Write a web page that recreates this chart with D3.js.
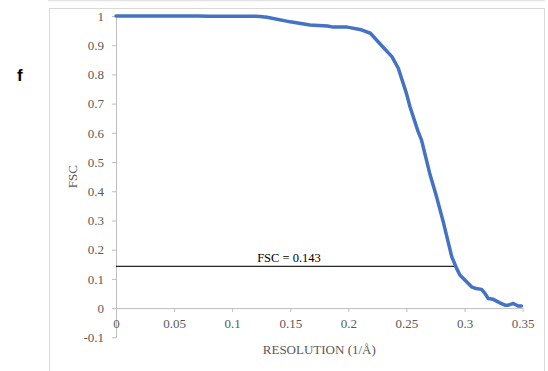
<!DOCTYPE html>
<html>
<head>
<meta charset="utf-8">
<script src="https://cdn.jsdelivr.net/npm/d3@7"></script>
<style>
  body { margin: 0; background: #fff; }
  svg { display: block; }
</style>
</head>
<body>
<div id="chart"></div>
<script>
// FSC curve
const resolution = [0, 0.02, 0.04, 0.06, 0.07, 0.08, 0.10, 0.12, 0.124, 0.13, 0.15, 0.167, 0.182, 0.187, 0.199,
  0.21, 0.219, 0.227, 0.2375, 0.243, 0.25, 0.253, 0.26, 0.263, 0.27, 0.276, 0.2817, 0.286, 0.289, 0.2932,
  0.296, 0.3018, 0.306, 0.31, 0.3147, 0.3176, 0.3204, 0.3247, 0.3305, 0.3348, 0.3376, 0.342, 0.3462, 0.349];
const fsc = [1, 1, 1, 1, 1, 0.999, 0.999, 0.999, 0.998, 0.996, 0.98, 0.969, 0.966, 0.962, 0.962,
  0.954, 0.941, 0.906, 0.861, 0.821, 0.735, 0.69, 0.605, 0.575, 0.462, 0.38, 0.295, 0.225, 0.176, 0.136,
  0.113, 0.09, 0.073, 0.067, 0.064, 0.05, 0.033, 0.03, 0.018, 0.01, 0.01, 0.016, 0.007, 0.007];

const xTicks = [0, 0.05, 0.1, 0.15, 0.2, 0.25, 0.3, 0.35];
const xTickLabels = ["0", "0.05", "0.1", "0.15", "0.2", "0.25", "0.3", "0.35"];
const yTicks = [1, 0.9, 0.8, 0.7, 0.6, 0.5, 0.4, 0.3, 0.2, 0.1, 0, -0.1];
const yTickLabels = ["1", "0.9", "0.8", "0.7", "0.6", "0.5", "0.4", "0.3", "0.2", "0.1", "0", "-0.1"];

const threshold = 0.143;
const thresholdEnd = 0.2928;

const width = 548, height = 371;
const serif = "'Liberation Serif', 'Times New Roman', serif";

const svg = d3.select("#chart").append("svg")
  .attr("width", width)
  .attr("height", height);

// chart frame
svg.append("line")
  .attr("x1", 48).attr("x2", 545).attr("y1", 0.5).attr("y2", 0.5)
  .attr("stroke", "#e3e3e3").attr("stroke-width", 1.5);
svg.append("rect")
  .attr("x", 49.5).attr("y", 8.5).attr("width", 495).attr("height", 380)
  .attr("fill", "none").attr("stroke", "#d9d9d9");

const x = d3.scaleLinear().domain([0, 0.35]).range([116, 522.6]);
const y = d3.scaleLinear().domain([-0.1, 1]).range([337.3, 16]);

// Y axis
const yAxis = svg.append("g")
  .attr("transform", "translate(" + x(0) + ",0)")
  .call(d3.axisLeft(y).tickValues(yTicks).tickSize(4).tickSizeOuter(0)
    .tickFormat((d, i) => yTickLabels[i]));
yAxis.selectAll("path, line").attr("stroke", "#bfbfbf");
yAxis.selectAll("text")
  .attr("x", -12)
  .style("font", "13px " + serif)
  .attr("fill", "#595959");

// X axis at y = 0
const xAxis = svg.append("g")
  .attr("transform", "translate(0," + y(0) + ")")
  .call(d3.axisBottom(x).tickValues(xTicks).tickSize(4).tickSizeOuter(0)
    .tickFormat((d, i) => xTickLabels[i]));
xAxis.selectAll("path, line").attr("stroke", "#bfbfbf");
xAxis.selectAll("text")
  .attr("y", 11)
  .style("font", "13px " + serif)
  .attr("fill", "#595959");

// FSC = 0.143 line
svg.append("line")
  .attr("x1", x(0)).attr("x2", x(thresholdEnd))
  .attr("y1", y(threshold)).attr("y2", y(threshold))
  .attr("stroke", "#262626").attr("stroke-width", 1.3);
svg.append("text")
  .attr("x", 289).attr("y", y(threshold) - 4)
  .attr("text-anchor", "middle")
  .style("font", "12.5px " + serif)
  .attr("fill", "#000")
  .text("FSC = 0.143");

// curve
svg.append("path")
  .datum(resolution.map((r, i) => [r, fsc[i]]))
  .attr("fill", "none")
  .attr("stroke", "#4472c4")
  .attr("stroke-width", 3.5)
  .attr("stroke-linejoin", "round")
  .attr("stroke-linecap", "round")
  .attr("d", d3.line().x(d => x(d[0])).y(d => y(d[1])));

// axis titles
svg.append("text")
  .attr("transform", "translate(77," + ((y(1) + y(-0.1)) / 2) + ")rotate(-90)")
  .attr("text-anchor", "middle")
  .style("font", "13px " + serif)
  .attr("fill", "#595959")
  .text("FSC");

svg.append("text")
  .attr("x", (x(0) + x(0.35)) / 2).attr("y", 354)
  .attr("text-anchor", "middle")
  .style("font", "13px " + serif)
  .attr("fill", "#595959")
  .text("RESOLUTION (1/Å)");

// panel letter
svg.append("text")
  .attr("x", 17).attr("y", 81)
  .style("font", "bold 17px 'Liberation Sans', Arial, sans-serif")
  .attr("fill", "#000")
  .text("f");
</script>
</body>
</html>
